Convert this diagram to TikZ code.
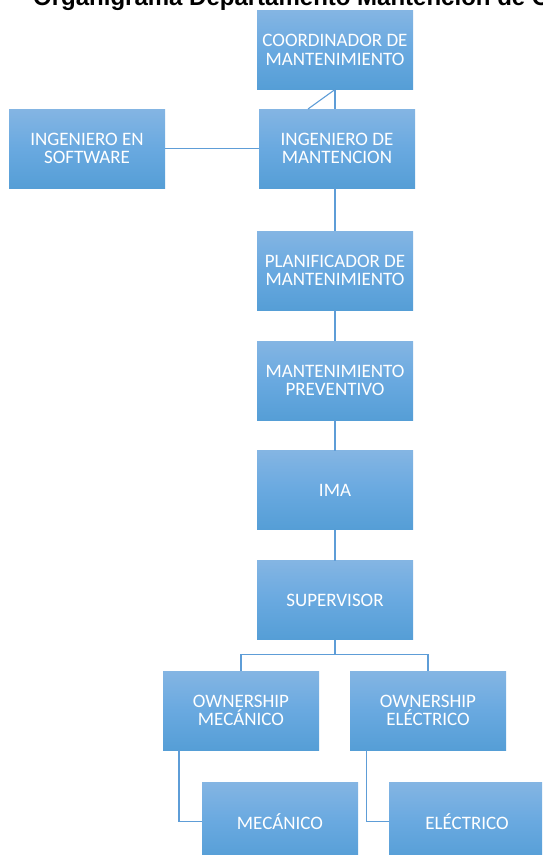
\documentclass[tikz,border=0pt]{standalone}
\usepackage{fontspec}
\setmainfont{Carlito}
\newfontfamily\titlefont{Liberation Sans}
\usetikzlibrary{calc}

\definecolor{boxtop}{HTML}{84B5E3}
\definecolor{boxmid}{HTML}{69A9E0}
\definecolor{boxbot}{HTML}{559ED6}
\definecolor{linkblue}{HTML}{5E9DD7}

\tikzset{
  orgbox/.style={rectangle, minimum width=156pt, minimum height=79pt,
    inner sep=0pt, outer sep=0pt, align=center, text=white,
    top color=boxtop, bottom color=boxbot, middle color=boxmid,
    font=\fontsize{19}{18.6}\selectfont},
  link/.style={draw=linkblue, line width=1.1pt}
}

\begin{document}
\begin{tikzpicture}[x=1pt,y=-1pt]
  \useasboundingbox (0,0) rectangle (542,855);
  \clip (0,0) rectangle (542,855);

  % heading, running past the top and right edges of the page
  \node[anchor=base west, inner sep=0pt, font=\titlefont\bfseries\fontsize{24}{28}\selectfont]
    (title) at (33,5) {Organigrama Departamento Mantención de C};

  % boxes
  \node[orgbox] (coord) at (335,50)    {COORDINADOR DE\\MANTENIMIENTO};
  \node[orgbox] (ing)   at (337,148.5) {INGENIERO DE\\MANTENCION};
  \node[orgbox] (soft)  at (87,148.5)  {INGENIERO EN\\SOFTWARE};
  \node[orgbox] (plan)  at (335,270.5) {PLANIFICADOR DE\\MANTENIMIENTO};
  \node[orgbox] (prev)  at (335,380.5) {MANTENIMIENTO\\PREVENTIVO};
  \node[orgbox] (ima)   at (335,490)   {IMA};
  \node[orgbox] (sup)   at (335,600)   {SUPERVISOR};
  \node[orgbox] (ownm)  at (241,710.5) {OWNERSHIP\\MECÁNICO};
  \node[orgbox] (owne)  at (428,710.5) {OWNERSHIP\\ELÉCTRICO};
  \node[orgbox] (mec)   at (280,821.5) {MECÁNICO};
  \node[orgbox] (elec)  at (467,821.5) {ELÉCTRICO};

  % connectors
  \draw[link] (coord.south) -- (coord.south |- ing.north);
  \draw[link] (coord.south) -- ($(ing.north west)+(49,0)$);
  \draw[link] (soft.east) -- (ing.west);
  \draw[link] (plan.north |- ing.south) -- (plan.north);
  \draw[link] (plan) -- (prev);
  \draw[link] (prev) -- (ima);
  \draw[link] (ima) -- (sup);
  \draw[link] (sup.south) -- ++(0,15) coordinate (fork) -| (ownm.north);
  \draw[link] (fork) -| (owne.north);
  \draw[link] ($(ownm.south west)+(16,0)$) |- (mec.west);
  \draw[link] ($(owne.south west)+(16.5,0)$) |- (elec.west);
\end{tikzpicture}
\end{document}
